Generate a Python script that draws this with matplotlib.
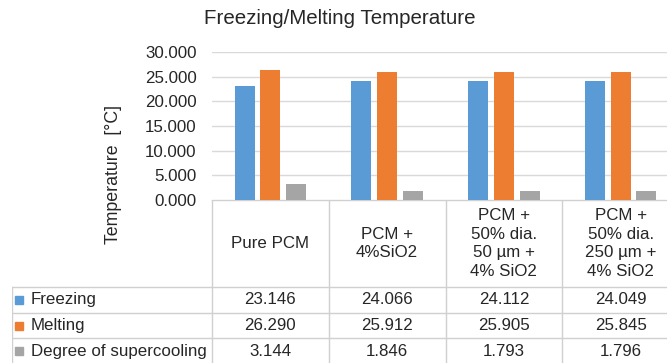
import matplotlib
matplotlib.use('Agg')
import matplotlib.pyplot as plt

plt.rcParams['font.family'] = ['Liberation Sans', 'DejaVu Sans']

# data
categories = ['Pure PCM', 'PCM +\n4%SiO2', 'PCM +\n50% dia.\n50 \u00b5m +\n4% SiO2',
              'PCM +\n50% dia.\n250 \u00b5m +\n4% SiO2']
series_names = ['Freezing', 'Melting', 'Degree of supercooling']
freezing = [23.146, 24.066, 24.112, 24.049]
melting = [26.290, 25.912, 25.905, 25.845]
supercooling = [3.144, 1.846, 1.793, 1.796]
colors = ['#5B9BD5', '#ED7D31', '#A5A5A5']
yticks = [0, 5, 10, 15, 20, 25, 30]

W, H = 667, 363
fig = plt.figure(figsize=(W / 100, H / 100), dpi=100)
txt = '#262626'
fs = 12.2

# pixel layout
left, right = 212, 679
top, base = 52, 200
ax = fig.add_axes([left / W, 1 - base / H, (right - left) / W, (base - top) / H])

series = [freezing, melting, supercooling]
step, width = 0.22, 0.171
for j, (vals, c) in enumerate(zip(series, colors)):
    xs = [i + (j - 1) * step for i in range(len(categories))]
    ax.bar(xs, vals, width=width, color=c, zorder=3)

ax.set_xlim(-0.5, len(categories) - 0.5)
ax.set_ylim(0, 30)
ax.set_yticks(yticks)
ax.set_yticklabels(['%.3f' % t for t in yticks])
ax.set_xticks([])
ax.grid(axis='y', color='#d9d9d9', linewidth=1, zorder=0)
for s in ax.spines.values():
    s.set_visible(False)
ax.tick_params(axis='y', length=0, pad=11, labelsize=fs, colors=txt)
ax.set_ylabel('Temperature  [\u00b0C]', fontsize=12.8, color=txt)
ax.yaxis.set_label_coords(-0.193, 0.169)

fig.text(340 / W, 1 - 19 / H, 'Freezing/Melting Temperature', ha='center', va='center',
         fontsize=14.8, color=txt)

# data table below the bars
tab_left = 12
col_w = (right - left) / len(categories)
lab_w = (left - tab_left) / col_w
tax = fig.add_axes([tab_left / W, 1 - 364 / H, (right - tab_left) / W, (364 - base) / H])
tax.set_xlim(-0.5 - lab_w, len(categories) - 0.5)
tax.set_ylim(164, 0)
tax.axis('off')

header_h = 87
row_h = (164 - header_h) / 3
gc = '#d0d0d0'
n = len(categories)
tax.plot([-0.5, n - 0.5], [0.5, 0.5], color=gc, lw=1)
for r in range(4):
    y = header_h + r * row_h
    tax.plot([-0.5 - lab_w, n - 0.5], [y, y], color=gc, lw=1)
tax.plot([-0.5 - lab_w, -0.5 - lab_w], [header_h, 164], color=gc, lw=1)
for i in range(n + 1):
    tax.plot([i - 0.5, i - 0.5], [0, 164], color=gc, lw=1)

for i, cat in enumerate(categories):
    tax.text(i, header_h / 2, cat, ha='center', va='center', fontsize=fs,
             linespacing=1.28, color=txt)

for r, (name, vals, c) in enumerate(zip(series_names, series, colors)):
    yc = header_h + (r + 0.5) * row_h
    tax.plot([-0.5 - lab_w + 0.06], [yc], marker='s', markersize=5.5, color=c,
             linestyle='none')
    tax.text(-0.5 - lab_w + 0.16, yc, name, ha='left', va='center', fontsize=fs,
             color=txt)
    for i, v in enumerate(vals):
        tax.text(i, yc, '%.3f' % v, ha='center', va='center', fontsize=fs,
                 color=txt)

fig.savefig('out.png', dpi=100, facecolor='white')
